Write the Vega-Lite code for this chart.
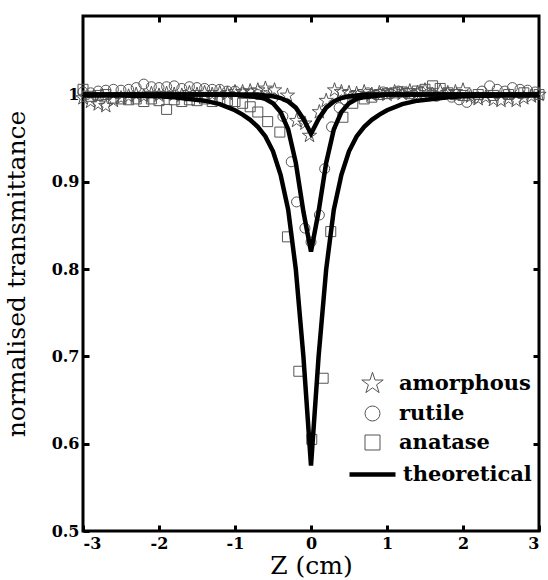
{
  "$schema": "https://vega.github.io/schema/vega-lite/v6.json",
  "width": 456,
  "height": 515,
  "autosize": {"type": "none"},
  "padding": {"left": 83, "top": 16, "right": 9, "bottom": 49},
  "background": "white",
  "config": {
    "view": {"stroke": "black", "strokeWidth": 3},
    "axis": {
      "domain": false, "grid": false, "ticks": true,
      "tickColor": "black", "tickWidth": 3, "tickSize": -6,
      "labelFont": "DejaVu Serif", "labelFontWeight": "bold", "labelFontSize": 16, "labelColor": "black",
      "titleFont": "DejaVu Serif", "titleFontWeight": "normal", "titleFontSize": 25, "titleColor": "black"
    },
    "legend": {
      "labelFont": "DejaVu Serif", "labelFontWeight": "bold", "labelFontSize": 21, "labelColor": "black",
      "padding": 0, "titlePadding": 0
    }
  },
  "datasets": {
    "pts": [
      {"z": -3.0, "T": 0.996, "s": "amorphous"}, {"z": -2.9, "T": 0.992, "s": "amorphous"}, {"z": -2.8, "T": 0.989, "s": "amorphous"},
      {"z": -2.7, "T": 0.987, "s": "amorphous"}, {"z": -2.6, "T": 0.993, "s": "amorphous"}, {"z": -2.5, "T": 0.996, "s": "amorphous"},
      {"z": -2.4, "T": 0.998, "s": "amorphous"}, {"z": -2.3, "T": 1.0, "s": "amorphous"}, {"z": -2.2, "T": 0.998, "s": "amorphous"},
      {"z": -2.1, "T": 1.001, "s": "amorphous"}, {"z": -2.0, "T": 0.999, "s": "amorphous"}, {"z": -1.9, "T": 1.001, "s": "amorphous"},
      {"z": -1.8, "T": 1.0, "s": "amorphous"}, {"z": -1.7, "T": 0.999, "s": "amorphous"}, {"z": -1.6, "T": 1.002, "s": "amorphous"},
      {"z": -1.5, "T": 1.0, "s": "amorphous"}, {"z": -1.4, "T": 1.002, "s": "amorphous"}, {"z": -1.3, "T": 1.0, "s": "amorphous"},
      {"z": -1.2, "T": 1.002, "s": "amorphous"}, {"z": -1.1, "T": 1.001, "s": "amorphous"}, {"z": -1.0, "T": 1.003, "s": "amorphous"},
      {"z": -0.9, "T": 1.003, "s": "amorphous"}, {"z": -0.8, "T": 1.004, "s": "amorphous"}, {"z": -0.7, "T": 1.005, "s": "amorphous"},
      {"z": -0.6, "T": 1.007, "s": "amorphous"}, {"z": -0.48, "T": 1.005, "s": "amorphous"}, {"z": -0.31, "T": 0.999, "s": "amorphous"},
      {"z": -0.19, "T": 0.97, "s": "amorphous"}, {"z": -0.08, "T": 0.967, "s": "amorphous"}, {"z": -0.02, "T": 0.953, "s": "amorphous"},
      {"z": 0.11, "T": 0.98, "s": "amorphous"}, {"z": 0.2, "T": 0.993, "s": "amorphous"}, {"z": 0.31, "T": 1.005, "s": "amorphous"},
      {"z": 0.4, "T": 1.003, "s": "amorphous"}, {"z": 0.5, "T": 1.002, "s": "amorphous"}, {"z": 0.6, "T": 1.001, "s": "amorphous"},
      {"z": 0.7, "T": 1.003, "s": "amorphous"}, {"z": 0.8, "T": 1.0, "s": "amorphous"}, {"z": 0.9, "T": 1.002, "s": "amorphous"},
      {"z": 1.0, "T": 1.0, "s": "amorphous"}, {"z": 1.1, "T": 1.003, "s": "amorphous"}, {"z": 1.2, "T": 1.001, "s": "amorphous"},
      {"z": 1.3, "T": 1.004, "s": "amorphous"}, {"z": 1.4, "T": 1.002, "s": "amorphous"}, {"z": 1.5, "T": 1.005, "s": "amorphous"},
      {"z": 1.6, "T": 1.0, "s": "amorphous"}, {"z": 1.7, "T": 1.004, "s": "amorphous"}, {"z": 1.8, "T": 1.002, "s": "amorphous"},
      {"z": 1.9, "T": 1.003, "s": "amorphous"}, {"z": 2.0, "T": 1.005, "s": "amorphous"}, {"z": 2.1, "T": 0.998, "s": "amorphous"},
      {"z": 2.2, "T": 0.995, "s": "amorphous"}, {"z": 2.3, "T": 0.997, "s": "amorphous"}, {"z": 2.4, "T": 0.994, "s": "amorphous"},
      {"z": 2.5, "T": 0.993, "s": "amorphous"}, {"z": 2.6, "T": 0.995, "s": "amorphous"}, {"z": 2.7, "T": 0.993, "s": "amorphous"},
      {"z": 2.8, "T": 0.996, "s": "amorphous"}, {"z": 2.9, "T": 0.998, "s": "amorphous"}, {"z": 3.0, "T": 1.0, "s": "amorphous"},

      {"z": -3.0, "T": 1.003, "s": "rutile"}, {"z": -2.9, "T": 1.002, "s": "rutile"}, {"z": -2.8, "T": 1.004, "s": "rutile"},
      {"z": -2.7, "T": 1.005, "s": "rutile"}, {"z": -2.6, "T": 1.006, "s": "rutile"}, {"z": -2.5, "T": 1.005, "s": "rutile"},
      {"z": -2.4, "T": 1.006, "s": "rutile"}, {"z": -2.3, "T": 1.008, "s": "rutile"}, {"z": -2.2, "T": 1.012, "s": "rutile"},
      {"z": -2.1, "T": 1.009, "s": "rutile"}, {"z": -2.0, "T": 1.008, "s": "rutile"}, {"z": -1.9, "T": 1.009, "s": "rutile"},
      {"z": -1.8, "T": 1.01, "s": "rutile"}, {"z": -1.7, "T": 1.007, "s": "rutile"}, {"z": -1.6, "T": 1.009, "s": "rutile"},
      {"z": -1.5, "T": 1.008, "s": "rutile"}, {"z": -1.4, "T": 1.007, "s": "rutile"}, {"z": -1.3, "T": 1.006, "s": "rutile"},
      {"z": -1.2, "T": 1.006, "s": "rutile"}, {"z": -1.1, "T": 1.004, "s": "rutile"}, {"z": -1.0, "T": 1.004, "s": "rutile"},
      {"z": -0.9, "T": 1.002, "s": "rutile"}, {"z": -0.8, "T": 1.001, "s": "rutile"}, {"z": -0.7, "T": 1.0, "s": "rutile"},
      {"z": -0.6, "T": 0.999, "s": "rutile"}, {"z": -0.5, "T": 0.996, "s": "rutile"}, {"z": -0.37, "T": 0.975, "s": "rutile"},
      {"z": -0.26, "T": 0.923, "s": "rutile"}, {"z": -0.19, "T": 0.877, "s": "rutile"}, {"z": -0.08, "T": 0.847, "s": "rutile"},
      {"z": 0.0, "T": 0.831, "s": "rutile"}, {"z": 0.11, "T": 0.862, "s": "rutile"}, {"z": 0.18, "T": 0.915, "s": "rutile"},
      {"z": 0.27, "T": 0.963, "s": "rutile"}, {"z": 0.37, "T": 0.985, "s": "rutile"}, {"z": 0.45, "T": 0.994, "s": "rutile"},
      {"z": 0.55, "T": 0.998, "s": "rutile"}, {"z": 0.65, "T": 1.0, "s": "rutile"}, {"z": 0.75, "T": 1.002, "s": "rutile"},
      {"z": 0.85, "T": 1.0, "s": "rutile"}, {"z": 0.95, "T": 1.003, "s": "rutile"}, {"z": 1.05, "T": 1.001, "s": "rutile"},
      {"z": 1.15, "T": 1.004, "s": "rutile"}, {"z": 1.25, "T": 1.002, "s": "rutile"}, {"z": 1.35, "T": 1.0, "s": "rutile"},
      {"z": 1.45, "T": 1.003, "s": "rutile"}, {"z": 1.55, "T": 1.001, "s": "rutile"}, {"z": 1.65, "T": 0.998, "s": "rutile"},
      {"z": 1.75, "T": 1.0, "s": "rutile"}, {"z": 1.85, "T": 0.997, "s": "rutile"}, {"z": 1.95, "T": 0.994, "s": "rutile"},
      {"z": 2.05, "T": 0.991, "s": "rutile"}, {"z": 2.15, "T": 0.996, "s": "rutile"}, {"z": 2.25, "T": 1.004, "s": "rutile"},
      {"z": 2.35, "T": 1.01, "s": "rutile"}, {"z": 2.45, "T": 1.006, "s": "rutile"}, {"z": 2.55, "T": 1.004, "s": "rutile"},
      {"z": 2.65, "T": 1.008, "s": "rutile"}, {"z": 2.75, "T": 1.006, "s": "rutile"}, {"z": 2.85, "T": 1.005, "s": "rutile"},
      {"z": 2.95, "T": 1.003, "s": "rutile"},

      {"z": -3.0, "T": 1.006, "s": "anatase"}, {"z": -2.9, "T": 0.998, "s": "anatase"}, {"z": -2.8, "T": 0.999, "s": "anatase"},
      {"z": -2.7, "T": 1.0, "s": "anatase"}, {"z": -2.6, "T": 0.996, "s": "anatase"}, {"z": -2.5, "T": 0.995, "s": "anatase"},
      {"z": -2.4, "T": 0.994, "s": "anatase"}, {"z": -2.3, "T": 0.995, "s": "anatase"}, {"z": -2.2, "T": 0.992, "s": "anatase"},
      {"z": -2.1, "T": 0.995, "s": "anatase"}, {"z": -2.0, "T": 0.993, "s": "anatase"}, {"z": -1.9, "T": 0.983, "s": "anatase"},
      {"z": -1.8, "T": 0.994, "s": "anatase"}, {"z": -1.7, "T": 0.992, "s": "anatase"}, {"z": -1.6, "T": 0.994, "s": "anatase"},
      {"z": -1.5, "T": 0.993, "s": "anatase"}, {"z": -1.4, "T": 0.995, "s": "anatase"}, {"z": -1.3, "T": 0.992, "s": "anatase"},
      {"z": -1.2, "T": 0.994, "s": "anatase"}, {"z": -1.1, "T": 0.993, "s": "anatase"}, {"z": -1.0, "T": 0.992, "s": "anatase"},
      {"z": -0.9, "T": 0.99, "s": "anatase"}, {"z": -0.8, "T": 0.986, "s": "anatase"}, {"z": -0.7, "T": 0.98, "s": "anatase"},
      {"z": -0.57, "T": 0.969, "s": "anatase"}, {"z": -0.41, "T": 0.957, "s": "anatase"}, {"z": -0.31, "T": 0.837, "s": "anatase"},
      {"z": -0.16, "T": 0.683, "s": "anatase"}, {"z": 0.01, "T": 0.605, "s": "anatase"}, {"z": 0.16, "T": 0.675, "s": "anatase"},
      {"z": 0.26, "T": 0.843, "s": "anatase"}, {"z": 0.42, "T": 0.974, "s": "anatase"}, {"z": 0.55, "T": 0.99, "s": "anatase"},
      {"z": 0.7, "T": 0.995, "s": "anatase"}, {"z": 0.8, "T": 0.997, "s": "anatase"}, {"z": 0.9, "T": 1.0, "s": "anatase"},
      {"z": 1.0, "T": 1.001, "s": "anatase"}, {"z": 1.1, "T": 1.002, "s": "anatase"}, {"z": 1.2, "T": 1.003, "s": "anatase"},
      {"z": 1.3, "T": 1.001, "s": "anatase"}, {"z": 1.4, "T": 1.004, "s": "anatase"}, {"z": 1.5, "T": 1.006, "s": "anatase"},
      {"z": 1.6, "T": 1.01, "s": "anatase"}, {"z": 1.7, "T": 1.007, "s": "anatase"}, {"z": 1.8, "T": 1.002, "s": "anatase"},
      {"z": 1.9, "T": 1.0, "s": "anatase"}, {"z": 2.0, "T": 0.999, "s": "anatase"}, {"z": 2.2, "T": 1.0, "s": "anatase"},
      {"z": 2.4, "T": 0.999, "s": "anatase"}, {"z": 2.6, "T": 1.0, "s": "anatase"}, {"z": 2.8, "T": 1.002, "s": "anatase"},
      {"z": 3.0, "T": 1.0, "s": "anatase"}
    ],
    "theory": [
      {"z": -3, "T": 0.999, "c": "anatase"}, {"z": -2.5, "T": 0.999, "c": "anatase"}, {"z": -2, "T": 0.998, "c": "anatase"},
      {"z": -1.8, "T": 0.997, "c": "anatase"}, {"z": -1.6, "T": 0.995, "c": "anatase"}, {"z": -1.4, "T": 0.993, "c": "anatase"},
      {"z": -1.2, "T": 0.989, "c": "anatase"}, {"z": -1, "T": 0.982, "c": "anatase"}, {"z": -0.9, "T": 0.977, "c": "anatase"},
      {"z": -0.8, "T": 0.971, "c": "anatase"}, {"z": -0.7, "T": 0.963, "c": "anatase"}, {"z": -0.6, "T": 0.952, "c": "anatase"},
      {"z": -0.5, "T": 0.935, "c": "anatase"}, {"z": -0.4, "T": 0.908, "c": "anatase"}, {"z": -0.3, "T": 0.868, "c": "anatase"},
      {"z": -0.2, "T": 0.8, "c": "anatase"}, {"z": -0.1, "T": 0.7, "c": "anatase"}, {"z": 0, "T": 0.575, "c": "anatase"},
      {"z": 0.1, "T": 0.7, "c": "anatase"}, {"z": 0.2, "T": 0.8, "c": "anatase"}, {"z": 0.3, "T": 0.868, "c": "anatase"},
      {"z": 0.4, "T": 0.908, "c": "anatase"}, {"z": 0.5, "T": 0.935, "c": "anatase"}, {"z": 0.6, "T": 0.952, "c": "anatase"},
      {"z": 0.7, "T": 0.963, "c": "anatase"}, {"z": 0.8, "T": 0.971, "c": "anatase"}, {"z": 0.9, "T": 0.977, "c": "anatase"},
      {"z": 1, "T": 0.982, "c": "anatase"}, {"z": 1.2, "T": 0.989, "c": "anatase"}, {"z": 1.4, "T": 0.993, "c": "anatase"},
      {"z": 1.6, "T": 0.995, "c": "anatase"}, {"z": 1.8, "T": 0.997, "c": "anatase"}, {"z": 2, "T": 0.998, "c": "anatase"},
      {"z": 2.5, "T": 0.999, "c": "anatase"}, {"z": 3, "T": 0.999, "c": "anatase"},

      {"z": -3, "T": 1.0, "c": "rutile"}, {"z": -2, "T": 1.0, "c": "rutile"}, {"z": -1, "T": 1.0, "c": "rutile"},
      {"z": -0.9, "T": 0.999, "c": "rutile"}, {"z": -0.8, "T": 0.998, "c": "rutile"}, {"z": -0.7, "T": 0.997, "c": "rutile"},
      {"z": -0.6, "T": 0.995, "c": "rutile"}, {"z": -0.5, "T": 0.99, "c": "rutile"}, {"z": -0.4, "T": 0.98, "c": "rutile"},
      {"z": -0.3, "T": 0.96, "c": "rutile"}, {"z": -0.2, "T": 0.922, "c": "rutile"}, {"z": -0.1, "T": 0.866, "c": "rutile"},
      {"z": 0, "T": 0.82, "c": "rutile"}, {"z": 0.1, "T": 0.866, "c": "rutile"}, {"z": 0.2, "T": 0.922, "c": "rutile"},
      {"z": 0.3, "T": 0.96, "c": "rutile"}, {"z": 0.4, "T": 0.98, "c": "rutile"}, {"z": 0.5, "T": 0.99, "c": "rutile"},
      {"z": 0.6, "T": 0.995, "c": "rutile"}, {"z": 0.7, "T": 0.997, "c": "rutile"}, {"z": 0.8, "T": 0.998, "c": "rutile"},
      {"z": 0.9, "T": 0.999, "c": "rutile"}, {"z": 1, "T": 1.0, "c": "rutile"}, {"z": 2, "T": 1.0, "c": "rutile"},
      {"z": 3, "T": 1.0, "c": "rutile"},

      {"z": -3, "T": 1.0, "c": "amorphous"}, {"z": -1, "T": 1.0, "c": "amorphous"}, {"z": -0.7, "T": 1.0, "c": "amorphous"},
      {"z": -0.6, "T": 0.999, "c": "amorphous"}, {"z": -0.5, "T": 0.998, "c": "amorphous"}, {"z": -0.4, "T": 0.996, "c": "amorphous"},
      {"z": -0.3, "T": 0.992, "c": "amorphous"}, {"z": -0.2, "T": 0.985, "c": "amorphous"}, {"z": -0.1, "T": 0.972, "c": "amorphous"},
      {"z": 0, "T": 0.955, "c": "amorphous"}, {"z": 0.1, "T": 0.972, "c": "amorphous"}, {"z": 0.2, "T": 0.985, "c": "amorphous"},
      {"z": 0.3, "T": 0.992, "c": "amorphous"}, {"z": 0.4, "T": 0.996, "c": "amorphous"}, {"z": 0.5, "T": 0.998, "c": "amorphous"},
      {"z": 0.6, "T": 0.999, "c": "amorphous"}, {"z": 0.7, "T": 1.0, "c": "amorphous"}, {"z": 1, "T": 1.0, "c": "amorphous"},
      {"z": 3, "T": 1.0, "c": "amorphous"}
    ]
  },
  "layer": [
    {
      "data": {"name": "pts"},
      "mark": {"type": "point", "filled": false, "color": "#555", "strokeWidth": 1, "opacity": 1, "size": 100},
      "encoding": {
        "x": {"field": "z", "type": "quantitative", "scale": {"domain": [-3, 3], "nice": false, "zero": false},
              "axis": {"orient": "bottom", "values": [-3, -2, -1, 0, 1, 2, 3], "title": "Z (cm)",
                       "labelPadding": 10, "titlePadding": 2,
                       "labelExpr": "datum.value < 0 ? '-' + abs(datum.value) : '' + datum.value"}},
        "y": {"field": "T", "type": "quantitative", "scale": {"domain": [0.5, 1.09], "nice": false, "zero": false},
              "axis": {"orient": "left", "values": [0.5, 0.6, 0.7, 0.8, 0.9, 1], "format": ".1~f",
                       "title": "normalised transmittance", "labelPadding": 10, "titlePadding": 22}},
        "shape": {"field": "s", "type": "nominal",
                  "scale": {"domain": ["amorphous", "rutile", "anatase"],
                            "range": ["M0,-1.5L0.337,-0.464L1.427,-0.464L0.545,0.177L0.882,1.214L0,0.573L-0.882,1.214L-0.545,0.177L-1.427,-0.464L-0.337,-0.464Z", "circle", "square"]},
                  "legend": {
                    "title": null, "orient": "none", "legendX": 279, "legendY": 357,
                    "symbolSize": 225, "symbolStrokeColor": "#555", "symbolFillColor": "transparent",
                    "symbolStrokeWidth": 1, "labelOffset": 16, "rowPadding": 7
                  }}
      }
    },
    {
      "data": {"name": "theory"},
      "mark": {"type": "line", "strokeWidth": 4.5},
      "encoding": {
        "x": {"field": "z", "type": "quantitative", "scale": {"domain": [-3, 3], "nice": false, "zero": false},
              "axis": {"orient": "top", "values": [-2, -1, 0, 1, 2], "labels": false, "title": null,
                       "ticks": true, "tickSize": -6, "tickWidth": 3, "tickColor": "black"}},
        "y": {"field": "T", "type": "quantitative", "scale": {"domain": [0.5, 1.09], "nice": false, "zero": false},
              "axis": {"orient": "right", "values": [0.6, 0.7, 0.8, 0.9, 1], "labels": false, "title": null,
                       "ticks": true, "tickSize": -6, "tickWidth": 3, "tickColor": "black"}},
        "detail": {"field": "c"},
        "color": {"datum": "theoretical", "type": "nominal", "scale": {"range": ["black"]},
                  "legend": {"title": null, "orient": "none", "legendX": 264, "legendY": 433,
                             "symbolType": "stroke", "symbolSize": 2116, "symbolStrokeWidth": 4.5,
                             "symbolStrokeColor": "black", "labelOffset": 5}}
      }
    }
  ],
  "resolve": {"scale": {"x": "independent", "y": "independent"}, "axis": {"x": "independent", "y": "independent"}}
}
